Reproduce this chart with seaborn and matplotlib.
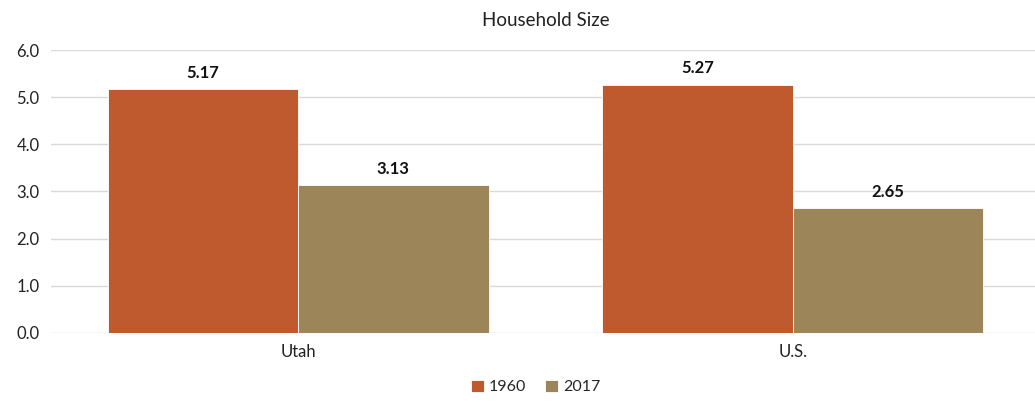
import pandas as pd
import matplotlib.pyplot as plt
import seaborn as sns

# 데이터
regions = ['Utah', 'U.S.']
years = ['1960', '2017']
size_1960 = [5.17, 5.27]
size_2017 = [3.13, 2.65]

df = pd.DataFrame({
    'region': regions * 2,
    'year': [years[0]] * 2 + [years[1]] * 2,
    'size': size_1960 + size_2017,
})

sns.set_style('white')
plt.rcParams['font.family'] = ['Lato', 'DejaVu Sans']

fig = plt.figure(figsize=(10.35, 4.04), dpi=100)
ax = fig.add_axes([0.049, 0.176, 0.956, 0.700])

palette = {'1960': '#BE5A2E', '2017': '#9C8558'}
sns.barplot(data=df, x='region', y='size', hue='year', palette=palette,
            width=0.77, saturation=1, ax=ax, edgecolor='white', linewidth=0.6)

for c in ax.containers:
    ax.bar_label(c, fmt='%.2f', padding=6, fontsize=12, fontweight='bold', color='#111111')

ax.set_ylim(0, 6)
ax.set_yticks([0, 1, 2, 3, 4, 5, 6])
ax.set_yticklabels([f'{v:.1f}' for v in range(7)])
ax.yaxis.grid(True, color='#D9D9D9', linewidth=1)
ax.set_axisbelow(True)
for s in ax.spines.values():
    s.set_visible(False)
ax.tick_params(axis='both', length=0, labelsize=12, colors='#222222', pad=8)
ax.set_xlabel('')
ax.set_ylabel('')
ax.set_title('Household Size', fontsize=13.5, color='#222222', pad=17)

ax.legend(loc='upper center', bbox_to_anchor=(0.49, -0.115), ncol=2, frameon=False,
          fontsize=11.5, handlelength=0.8, handleheight=0.8, handletextpad=0.3,
          columnspacing=1.2)

plt.savefig('out.png', dpi=100)
